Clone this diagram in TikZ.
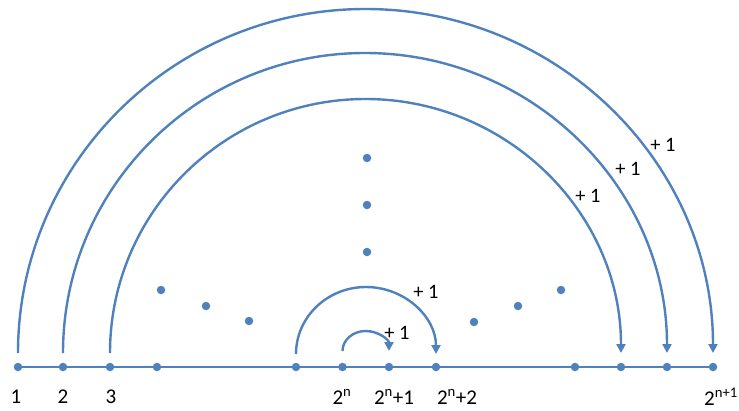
\documentclass[tikz,border=0pt]{standalone}
\usepackage{fontspec}
\setmainfont{Carlito}
\usetikzlibrary{arrows.meta}
\definecolor{acc}{RGB}{79,129,189}
\tikzset{
  axisline/.style={draw=acc, line width=2pt},
  bow/.style={draw=acc, line width=2.4pt},
  bowarrow/.style={bow, -{Triangle[length=9pt,width=9pt]}},
  pt/.style={circle, fill=acc, inner sep=0pt, minimum size=8.5pt},
  lab/.style={font=\fontsize{21}{23}\selectfont, inner sep=0pt},
  inc/.style={font=\fontsize{20.5}{22}\selectfont, inner sep=0pt}
}
\begin{document}
\begin{tikzpicture}[x=1pt,y=-1pt]
\useasboundingbox (0,0) rectangle (739,410);
% axis points
\node[pt] (p1) at (18,367) {};
\node[pt] (p2) at (63,367) {};
\node[pt] (p3) at (110,367) {};
\node[pt] (p4) at (157,367) {};
\node[pt] (q0) at (296,367) {};
\node[pt] (q1) at (342.5,367) {};
\node[pt] (q2) at (389,367) {};
\node[pt] (q3) at (436,367) {};
\node[pt] (r1) at (575,367) {};
\node[pt] (r2) at (621,367) {};
\node[pt] (r3) at (667,367) {};
\node[pt] (r4) at (713,367) {};
\draw[axisline] (p1.center) -- (r4.center);
% ellipsis dots
\node[pt] (v1) at (367,158) {};
\node[pt] (v2) at (367,205) {};
\node[pt] (v3) at (367,252) {};
\node[pt] (l1) at (161,290) {};
\node[pt] (l2) at (206,306) {};
\node[pt] (l3) at (249,321) {};
\node[pt] (m1) at (474,322) {};
\node[pt] (m2) at (518,306) {};
\node[pt] (m3) at (561,290) {};
% arc start coordinates
\coordinate (a1) at (18,353);
\coordinate (a2) at (63,353);
\coordinate (a3) at (110,353);
\coordinate (a4) at (296,354);
\coordinate (a5) at (342.5,351);
% arcs
\draw[bowarrow] (a1) arc[start angle=180, end angle=0, x radius=347.5pt, y radius=344pt];
\draw[bowarrow] (a2) arc[start angle=180, end angle=0, x radius=302pt, y radius=300pt];
\draw[bowarrow] (a3) arc[start angle=180, end angle=0, x radius=255.5pt, y radius=254pt];
\draw[bowarrow] (a4) arc[start angle=180, end angle=0, x radius=70pt, y radius=67pt];
\draw[bowarrow] (a5) arc[start angle=180, end angle=0, x radius=23.25pt, y radius=20pt];
% +1 labels
\node[inc] (i1) at (663,145) {+ 1};
\node[inc] (i2) at (628,169) {+ 1};
\node[inc] (i3) at (588,196) {+ 1};
\node[inc] (i4) at (426,292) {+ 1};
\node[inc] (i5) at (397,333) {+ 1};
% axis labels
\node[lab] (t1) at (16,397) {1};
\node[lab] (t2) at (63,397) {2};
\node[lab] (t3) at (111,397) {3};
\node[lab] (t4) at (342,397) {2\textsuperscript{n}};
\node[lab] (t5) at (394,397) {2\textsuperscript{n}+1};
\node[lab] (t6) at (457,397) {2\textsuperscript{n}+2};
\node[lab] (t7) at (721,397) {2\textsuperscript{n+1}};
\end{tikzpicture}
\end{document}
